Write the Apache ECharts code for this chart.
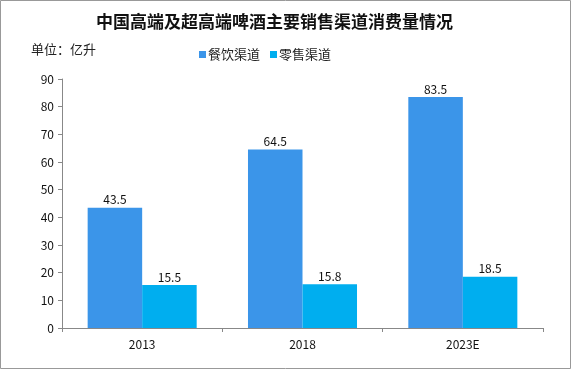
<!DOCTYPE html>
<html><head><meta charset="utf-8">
<script src="https://cdn.jsdelivr.net/npm/echarts@6/dist/echarts.min.js"></script>
<style>html,body{margin:0;padding:0;background:#fff}#c{width:571px;height:369px}</style>
</head><body><div id="c"></div>
<script>
const categories = ['2013', '2018', '2023E'];
const seriesNames = ['餐饮渠道', '零售渠道'];
const dining = [43.5, 64.5, 83.5];
const retail = [15.5, 15.8, 18.5];
const yTicks = {min: 0, max: 90, interval: 10};

const chart = echarts.init(document.getElementById('c'));
const font = '"Noto Sans CJK SC", "Noto Sans", sans-serif';
chart.setOption({
  animation: false,
  backgroundColor: '#fff',
  textStyle: {fontFamily: font},
  title: {
    text: '中国高端及超高端啤酒主要销售渠道消费量情况',
    left: 91, top: 8,
    textStyle: {fontSize: 17, fontWeight: 'bold', color: '#111', fontFamily: font}
  },
  graphic: [
    {type: 'rect', shape: {x: 0.5, y: 0.5, width: 570, height: 368}, style: {fill: 'none', stroke: '#999', lineWidth: 1}, silent: true},
    {type: 'text', left: 31, top: 43, style: {text: '单位：亿升', fontSize: 13, fill: '#222', fontFamily: font}}
  ],
  legend: {
    left: 194, top: 43,
    itemWidth: 7, itemHeight: 7, itemGap: 10,
    icon: 'rect',
    textStyle: {fontSize: 13, color: '#222', padding: [0, 0, 0, -3]},
    data: seriesNames
  },
  grid: {left: 62, right: 28, top: 79, bottom: 41, containLabel: false},
  xAxis: {
    type: 'category', data: categories,
    axisLine: {lineStyle: {color: '#888'}},
    axisTick: {show: true, alignWithLabel: false, length: 4, lineStyle: {color: '#888'}},
    axisLabel: {color: '#111', fontSize: 12, margin: 10}
  },
  yAxis: {
    type: 'value', min: yTicks.min, max: yTicks.max, interval: yTicks.interval,
    axisLine: {show: true, lineStyle: {color: '#888'}},
    axisTick: {show: true, length: 4, lineStyle: {color: '#888'}},
    splitLine: {show: false},
    axisLabel: {color: '#111', fontSize: 12, margin: 8}
  },
  series: [
    {name: seriesNames[0], type: 'bar', data: dining, barGap: '0%', barCategoryGap: '32%',
     itemStyle: {color: '#3b95e9'},
     label: {show: true, position: 'top', color: '#111', fontSize: 12, distance: 2}},
    {name: seriesNames[1], type: 'bar', data: retail, barGap: '0%', barCategoryGap: '32%',
     itemStyle: {color: '#00aeef'},
     label: {show: true, position: 'top', color: '#111', fontSize: 12, distance: 2}}
  ]
});
</script></body></html>
